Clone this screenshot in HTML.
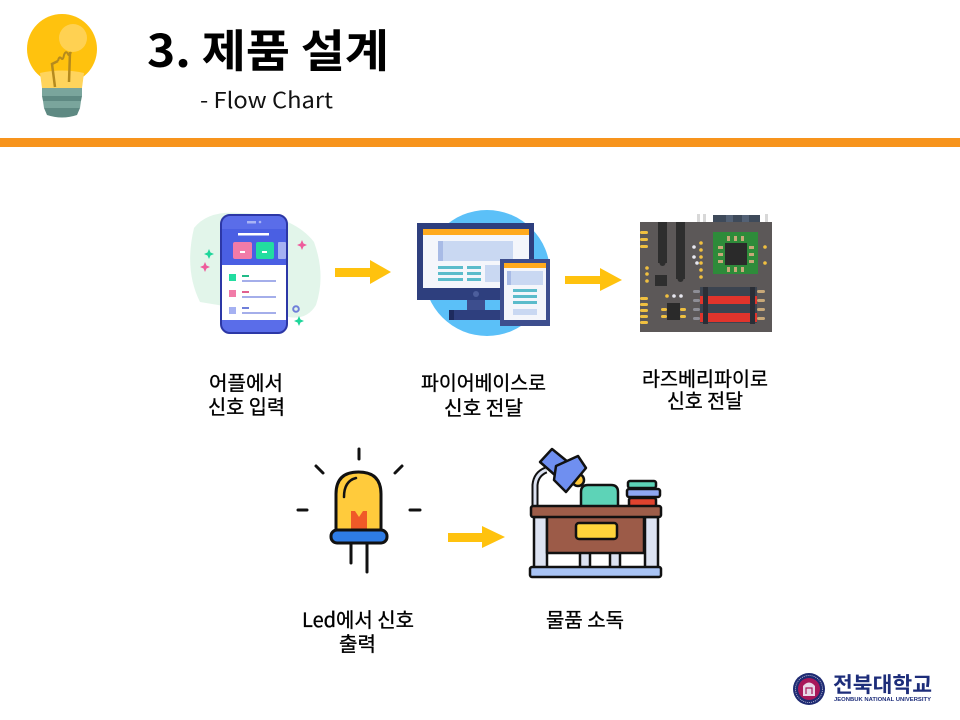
<!DOCTYPE html>
<html><head><meta charset="utf-8"><style>
html,body{margin:0;padding:0;background:#fff;}
svg{display:block;}
text{font-family:"Liberation Sans","Noto Sans CJK KR",sans-serif;}
.k{font-family:"Noto Sans CJK KR","Liberation Sans",sans-serif;}
</style></head><body>
<svg width="960" height="720" viewBox="0 0 960 720" xmlns="http://www.w3.org/2000/svg">
<rect width="960" height="720" fill="#fff"/>

<!-- Bulb icon -->
<g>
  <circle cx="62" cy="49" r="35" fill="#FFC20E"/>
  <path d="M40 73 Q62 68 84 73 L82 88 L42 88 Z" fill="#FFD45C"/>
  <circle cx="73" cy="38" r="14" fill="#FFD35A" opacity="0.9"/>
  <path d="M55 87 L52 64 L58 61 M70 52 L69 82" stroke="#B58A1E" stroke-width="2.5" fill="none"/>
  <path d="M58 61 q1 -5 3 -3 q2 3 3 -3 q2 -5 4 -1 q1 3 3 -2" stroke="#B58A1E" stroke-width="2" fill="none"/>
  <path d="M42 88 L82 88 L82 96 L42 96 Z" fill="#7AA59C"/>
  <path d="M42 96 L82 96 L81 101 L43 101 Z" fill="#5E8982"/>
  <path d="M43 101 L81 101 L80 108 L44 108 Z" fill="#7AA59C"/>
  <path d="M44 108 L80 108 L77 115 Q62 120 47 115 Z" fill="#5E8982"/>
</g>

<!-- Title -->
<text class="k" x="147" y="67" font-size="45" font-weight="700" fill="#000" textLength="242" lengthAdjust="spacingAndGlyphs">3. 제품 설계</text>
<text class="k" x="200" y="108" font-size="22" fill="#111" textLength="133" lengthAdjust="spacingAndGlyphs">- Flow Chart</text>

<!-- Orange bar -->
<rect x="0" y="138" width="960" height="9" fill="#F7941D"/>

<!-- Phone icon -->
<g>
  <path d="M194 228 Q208 210 240 213 Q292 214 314 242 Q326 275 316 305 Q306 322 284 316 L200 302 Q184 270 194 228 Z" fill="#E2F5EA"/>
  <rect x="221" y="215" width="66" height="118" rx="9" fill="#5A6DE9" stroke="#2C37A6" stroke-width="2"/>
  <rect x="222" y="229" width="64" height="36" fill="#4A5FE3"/>
  <rect x="247" y="221" width="9" height="2.5" fill="#A9B4F5"/>
  <circle cx="260" cy="222" r="1.3" fill="#A9B4F5"/>
  <rect x="238" y="233" width="31" height="2.5" fill="#fff"/>
  <rect x="233" y="242" width="19" height="17" rx="2" fill="#F17BA8"/>
  <rect x="256" y="242" width="18" height="17" rx="2" fill="#22DDA0"/>
  <rect x="278" y="242" width="8" height="17" rx="1" fill="#A5B1F2"/>
  <rect x="240" y="251" width="5" height="2" fill="#fff"/><rect x="262" y="251" width="5" height="2" fill="#fff"/>
  <rect x="222" y="265" width="64" height="55" fill="#fff"/>
  <rect x="229" y="274" width="7" height="7" fill="#22DDA0"/>
  <rect x="229" y="290" width="7" height="7" fill="#F17BA8"/>
  <rect x="229" y="307" width="7" height="7" fill="#A5B1F2"/>
  <rect x="242" y="275" width="7" height="2" fill="#22BB88"/><rect x="242" y="280" width="34" height="2" fill="#A4AEEA"/>
  <rect x="242" y="291" width="7" height="2" fill="#E0608F"/><rect x="242" y="296" width="34" height="2" fill="#A4AEEA"/>
  <rect x="242" y="307" width="7" height="2" fill="#6F7FD9"/><rect x="242" y="312" width="34" height="2" fill="#A4AEEA"/>
  <path d="M209 249 l1.5 3.5 l3.5 1.5 l-3.5 1.5 l-1.5 3.5 l-1.5 -3.5 l-3.5 -1.5 l3.5 -1.5 z" fill="#1ED69A"/>
  <path d="M205 262 l1.5 3.5 l3.5 1.5 l-3.5 1.5 l-1.5 3.5 l-1.5 -3.5 l-3.5 -1.5 l3.5 -1.5 z" fill="#EE5C9C"/>
  <path d="M302 240 l1.5 3.5 l3.5 1.5 l-3.5 1.5 l-1.5 3.5 l-1.5 -3.5 l-3.5 -1.5 l3.5 -1.5 z" fill="#EE5C9C"/>
  <circle cx="296" cy="309" r="2.8" fill="none" stroke="#6F7FD9" stroke-width="2"/>
  <path d="M299 316 l1.5 3.5 l3.5 1.5 l-3.5 1.5 l-1.5 3.5 l-1.5 -3.5 l-3.5 -1.5 l3.5 -1.5 z" fill="#1ED69A"/>
</g>

<!-- Arrow 1 -->
<path d="M335 268 L370 268 L370 260 L391 272 L370 284 L370 277 L335 277 Z" fill="#FFC20E"/>

<!-- Monitor icon -->
<g>
  <circle cx="487" cy="273" r="63" fill="#5BC0F8"/>
  <rect x="417" y="223" width="117" height="77" fill="#2E3F7E"/>
  <rect x="423" y="229" width="106" height="59" fill="#F4F6FB"/>
  <rect x="423" y="229" width="106" height="6" fill="#FFAA1E"/>
  <rect x="438" y="241" width="75" height="20" fill="#C9D8F2"/>
  <rect x="438" y="241" width="5" height="20" fill="#A8BBE6"/>
  <rect x="438" y="266" width="25" height="3" fill="#5BBCCB"/><rect x="467" y="266" width="14" height="3" fill="#5BBCCB"/>
  <rect x="438" y="272" width="25" height="3" fill="#5BBCCB"/><rect x="467" y="272" width="14" height="3" fill="#5BBCCB"/>
  <rect x="438" y="278" width="25" height="3" fill="#5BBCCB"/><rect x="467" y="278" width="14" height="3" fill="#5BBCCB"/>
  <rect x="485" y="265" width="15" height="17" fill="#C9D8F2"/>
  <circle cx="476" cy="294" r="3" fill="#4C5E9C"/>
  <rect x="467" y="300" width="18" height="10" fill="#3D4E8E"/>
  <rect x="449" y="310" width="55" height="10" fill="#2E3F7E"/>
  <rect x="449" y="310" width="5" height="10" fill="#1E2B5E"/>
  <rect x="500" y="259" width="50" height="67" fill="#3D4E8E"/>
  <rect x="504" y="263" width="42" height="57" fill="#F4F6FB"/>
  <rect x="504" y="263" width="42" height="5" fill="#FFAA1E"/>
  <rect x="507" y="271" width="36" height="14" fill="#C9D8F2"/>
  <rect x="507" y="271" width="4" height="14" fill="#A8BBE6"/>
  <rect x="513" y="289" width="24" height="3" fill="#5BBCCB"/>
  <rect x="513" y="295" width="24" height="3" fill="#5BBCCB"/>
  <rect x="513" y="301" width="24" height="3" fill="#5BBCCB"/>
  <rect x="513" y="309" width="24" height="6" fill="#C9D8F2"/>
</g>

<!-- Arrow 2 -->
<path d="M565 276 L600 276 L600 268 L622 280 L600 291 L600 284 L565 284 Z" fill="#FFC20E"/>

<!-- Board icon -->
<g>
  <rect x="697" y="214" width="3" height="8" fill="#D8D8D8"/><rect x="703" y="214" width="3" height="8" fill="#D8D8D8"/>
  <rect x="713" y="215" width="47" height="7" fill="#3E4A5A"/>
  <rect x="726" y="215" width="7" height="7" fill="#536175"/><rect x="742" y="215" width="7" height="7" fill="#536175"/>
  <rect x="765" y="214" width="3" height="8" fill="#D8D8D8"/>
  <rect x="640" y="222" width="132" height="110" fill="#5C5858"/>
  <rect x="658" y="222" width="9" height="41" fill="#2E2E2E"/><circle cx="662.5" cy="263" r="3" fill="#2E2E2E"/>
  <rect x="676" y="222" width="9" height="57" fill="#2E2E2E"/><circle cx="680.5" cy="279" r="3" fill="#2E2E2E"/>
  <rect x="655" y="275" width="12" height="11" fill="#2E2E2E"/>
  <rect x="640" y="231" width="8" height="3" rx="1.5" fill="#F0C040"/>
  <rect x="640" y="238" width="8" height="3" rx="1.5" fill="#F0C040"/>
  <rect x="640" y="245" width="8" height="3" rx="1.5" fill="#F0C040"/>
  <rect x="640" y="297" width="8" height="3" rx="1.5" fill="#F0C040"/>
  <rect x="640" y="303" width="8" height="3" rx="1.5" fill="#F0C040"/>
  <rect x="640" y="309" width="8" height="3" rx="1.5" fill="#F0C040"/>
  <rect x="640" y="315" width="8" height="3" rx="1.5" fill="#F0C040"/>
  <rect x="640" y="321" width="8" height="3" rx="1.5" fill="#F0C040"/>
  <circle cx="647" cy="268" r="1.8" fill="#F0C040"/><circle cx="647" cy="274" r="1.8" fill="#F0C040"/><circle cx="647" cy="281" r="1.8" fill="#F0C040"/>
  <circle cx="701" cy="243" r="1.8" fill="#F0C040"/><circle cx="701" cy="250" r="1.8" fill="#F0C040"/><circle cx="701" cy="257" r="1.8" fill="#F0C040"/><circle cx="701" cy="263" r="1.8" fill="#F0C040"/><circle cx="701" cy="270" r="1.8" fill="#F0C040"/><circle cx="701" cy="277" r="1.8" fill="#F0C040"/>
  <circle cx="694" cy="247" r="1.8" fill="#E8E8F0"/><circle cx="694" cy="257" r="1.8" fill="#E8E8F0"/><circle cx="697" cy="263" r="1.8" fill="#E8E8F0"/>
  <circle cx="765" cy="247" r="1.8" fill="#F0C040"/><circle cx="765" cy="263" r="1.8" fill="#F0C040"/>
  <rect x="713" y="232" width="45" height="42" fill="#2E8B3A"/>
  <rect x="725" y="243" width="22" height="22" fill="#2A2A2A"/>
  <g fill="#C8A878">
    <rect x="727" y="236" width="3" height="5"/><rect x="734" y="236" width="3" height="5"/><rect x="741" y="236" width="3" height="5"/>
    <rect x="727" y="267" width="3" height="5"/><rect x="734" y="267" width="3" height="5"/><rect x="741" y="267" width="3" height="5"/>
    <rect x="718" y="246" width="5" height="3"/><rect x="718" y="253" width="5" height="3"/><rect x="718" y="260" width="5" height="3"/>
    <rect x="749" y="246" width="5" height="3"/><rect x="749" y="253" width="5" height="3"/><rect x="749" y="260" width="5" height="3"/>
  </g>
  <rect x="700" y="287" width="57" height="36" fill="#3C4450"/>
  <rect x="700" y="296" width="57" height="8" fill="#E0342C"/>
  <rect x="700" y="313" width="57" height="9" fill="#E0342C"/>
  <rect x="703" y="287" width="5" height="37" fill="#2A2E36"/>
  <rect x="750" y="287" width="5" height="37" fill="#2A2E36"/>
  <g fill="#8E8E96"><rect x="693" y="290" width="7" height="3" rx="1.5"/><rect x="693" y="299" width="7" height="3" rx="1.5"/><rect x="693" y="308" width="7" height="3" rx="1.5"/><rect x="693" y="317" width="7" height="3" rx="1.5"/></g>
  <g fill="#C8A878"><rect x="757" y="290" width="8" height="3" rx="1.5"/><rect x="757" y="299" width="8" height="3" rx="1.5"/><rect x="757" y="308" width="8" height="3" rx="1.5"/><rect x="757" y="317" width="8" height="3" rx="1.5"/></g>
  <rect x="667" y="303" width="13" height="17" fill="#2A2A2A"/>
  <g fill="#F0C040"><rect x="661" y="308" width="6" height="3" rx="1.5"/><rect x="661" y="315" width="6" height="3" rx="1.5"/><rect x="680" y="308" width="6" height="3" rx="1.5"/><rect x="680" y="315" width="6" height="3" rx="1.5"/></g>
  <circle cx="667" cy="296" r="1.8" fill="#F0C040"/><circle cx="674" cy="296" r="1.8" fill="#E8E8F0"/><circle cx="681" cy="296" r="1.8" fill="#E8E8F0"/>
</g>

<!-- Labels row 1 -->
<g fill="#000" stroke="#000" stroke-width="0.35">
  <text class="k" x="209" y="390" font-size="20" textLength="74" lengthAdjust="spacingAndGlyphs">어플에서</text>
  <text class="k" x="208" y="414" font-size="20" textLength="77" lengthAdjust="spacingAndGlyphs">신호 입력</text>
  <text class="k" x="421" y="390" font-size="20" textLength="125" lengthAdjust="spacingAndGlyphs">파이어베이스로</text>
  <text class="k" x="444" y="415" font-size="20" textLength="79" lengthAdjust="spacingAndGlyphs">신호 전달</text>
  <text class="k" x="642" y="386" font-size="20" textLength="126" lengthAdjust="spacingAndGlyphs">라즈베리파이로</text>
  <text class="k" x="667" y="408" font-size="20" textLength="76" lengthAdjust="spacingAndGlyphs">신호 전달</text>
</g>

<!-- LED icon -->
<g stroke="#111" stroke-linecap="round" fill="none">
  <path d="M359 449 L359 459" stroke-width="3"/>
  <path d="M316 466 L323 473" stroke-width="3"/>
  <path d="M402 466 L395 473" stroke-width="3"/>
  <path d="M298 510 L307 510" stroke-width="3"/>
  <path d="M410 510 L420 510" stroke-width="3"/>
  <path d="M351 543 L351 563" stroke-width="3"/>
  <path d="M367 543 L367 572" stroke-width="3"/>
  <path d="M336 531 L336 494 Q336 472 358.5 472 Q381 472 381 494 L381 531 Z" fill="#FFCB3C" stroke-width="3"/>
  <path d="M344 497 Q344 481 356 478" stroke-width="2.5"/>
  <path d="M351 531 L351 511 L355 511 L359 517 L363 511 L367 511 L367 531 Z" fill="#F05A28" stroke="none"/>
  <rect x="331" y="530" width="56" height="13" rx="6" fill="#2E7CE6" stroke-width="3"/>
</g>

<!-- Arrow 3 -->
<path d="M448 533 L482 533 L482 526 L505 537 L482 548 L482 542 L448 542 Z" fill="#FFC20E"/>

<!-- Desk icon -->
<g stroke="#111" stroke-width="2.5" stroke-linejoin="round">
  <path d="M535 507 L535 485 Q536 474 546 470" fill="none" stroke-width="7"/>
  <path d="M535 507 L535 485 Q536 474 546 470" fill="none" stroke="#DDE3F2" stroke-width="3"/>
  <circle cx="578" cy="480" r="6" fill="#FFC93C"/>
  <path d="M540 462 L552 449 L568 462 L556 476 Z" fill="#6F8FF0"/>
  <path d="M556 466 L578 456 L586 468 L566 492 L554 480 Z" fill="#6F8FF0"/>
  <path d="M581 507 L581 492 Q581 485 588 485 L611 485 Q618 485 618 492 L618 507 Z" fill="#5DD3B7"/>
  <rect x="628" y="481" width="28" height="7" rx="2" fill="#5DD3B7"/>
  <rect x="627" y="489" width="33" height="8" rx="2" fill="#8EA7F2"/>
  <rect x="629" y="498" width="27" height="9" rx="2" fill="#E0432E"/>
  <rect x="534" y="517" width="13" height="51" fill="#DDE3F2"/>
  <rect x="645" y="517" width="13" height="51" fill="#DDE3F2"/>
  <rect x="580" y="552" width="10" height="16" fill="#DDE3F2"/>
  <rect x="610" y="552" width="10" height="16" fill="#DDE3F2"/>
  <rect x="547" y="516" width="97" height="37" fill="#9C5B48"/>
  <rect x="576" y="523" width="41" height="16" rx="3" fill="#FFD43B"/>
  <rect x="531" y="506" width="130" height="11" rx="2" fill="#9E5D49"/>
  <rect x="530" y="567" width="131" height="10" rx="2" fill="#A9C4F5"/>
</g>

<!-- Labels row 2 -->
<g fill="#000" stroke="#000" stroke-width="0.35">
<text class="k" x="302" y="627" font-size="20" textLength="112" lengthAdjust="spacingAndGlyphs">Led에서 신호</text>
<text class="k" x="339" y="651" font-size="20" textLength="37" lengthAdjust="spacingAndGlyphs">출력</text>
<text class="k" x="546" y="627" font-size="20" textLength="78" lengthAdjust="spacingAndGlyphs">물품 소독</text>
</g>

<!-- University logo -->
<g>
  <circle cx="809" cy="689" r="16" fill="#1E2A72"/>
  <circle cx="809" cy="689" r="13.5" fill="none" stroke="#C9CCE0" stroke-width="0.8" stroke-dasharray="1 1"/>
  <circle cx="809" cy="689" r="11" fill="#A8185A"/>
  <path d="M803 696 L803 686 Q809 679 815 686 L815 696 Z" fill="#E8D8E8"/>
  <path d="M806 694 L806 688 L812 688 L812 694" fill="none" stroke="#A8185A" stroke-width="1.2"/>
  <text class="k" x="833" y="692" font-size="21" font-weight="700" fill="#1D2D7A" textLength="99" lengthAdjust="spacingAndGlyphs">전북대학교</text>
  <text x="834" y="701" font-size="5.5" font-weight="700" fill="#1D2D7A" textLength="97" lengthAdjust="spacingAndGlyphs">JEONBUK NATIONAL UNIVERSITY</text>
</g>
</svg>
</body></html>
